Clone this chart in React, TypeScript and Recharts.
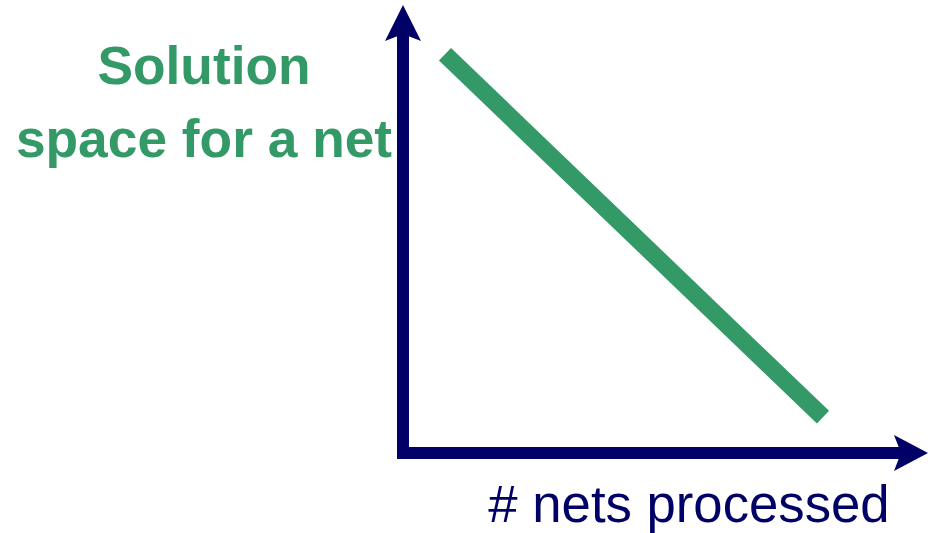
import { ComposedChart, Line, XAxis, YAxis, ReferenceLine } from 'recharts';

// endpoints of the trend line, in axis units (0..100 on both axes)
const netsProcessed = [8, 80];
const solutionSpace = [89, 8];

const yLabelLines = ['Solution', 'space for a net'];
const xLabel = '# nets processed';

const NAVY = '#000066';
const GREEN = '#339966';
const FONT = '"Liberation Sans", Arial, sans-serif';

const chartData = netsProcessed.map((x, i) => ({ x, y: solutionSpace[i] }));

interface ArrowShapeProps {
  x1?: number;
  y1?: number;
  x2?: number;
  y2?: number;
}

// vertical axis: drawn from origin up to the top with an arrowhead
function YArrow({ x1 = 0, y1 = 0, x2 = 0, y2 = 0 }: ArrowShapeProps) {
  const top = Math.min(y1, y2);
  const bottom = Math.max(y1, y2);
  const x = x1;
  return (
    <g>
      <line x1={x} y1={bottom} x2={x} y2={top + 32} stroke={NAVY} strokeWidth={12} strokeLinecap="square" />
      <polygon
        points={`${x},${top} ${x - 18},${top + 36} ${x},${top + 29} ${x + 18},${top + 36}`}
        fill={NAVY}
      />
      {yLabelLines.map((line, i) => (
        <text
          key={line}
          x={x - 199}
          y={top + 79 + i * 73}
          textAnchor="middle"
          fill={GREEN}
          fontFamily={FONT}
          fontWeight="bold"
          fontSize={53.3}
        >
          {line}
        </text>
      ))}
    </g>
  );
}

// horizontal axis: from origin to the right edge with an arrowhead
function XArrow({ x1 = 0, y1 = 0, x2 = 0 }: ArrowShapeProps) {
  const left = Math.min(x1, x2);
  const right = Math.max(x1, x2);
  const y = y1;
  return (
    <g>
      <line x1={left} y1={y} x2={right - 30} y2={y} stroke={NAVY} strokeWidth={12} strokeLinecap="square" />
      <polygon
        points={`${right},${y} ${right - 34},${y - 18} ${right - 27},${y} ${right - 34},${y + 18}`}
        fill={NAVY}
      />
      <text x={689} y={y + 69} textAnchor="middle" fill={NAVY} fontFamily={FONT} fontSize={52.7}>
        {xLabel}
      </text>
    </g>
  );
}

export default function App() {
  return (
    <div style={{ position: 'absolute', left: 0, top: 0, width: 928, height: 533, background: '#fff' }}>
      <ComposedChart
        width={928}
        height={533}
        data={chartData}
        margin={{ top: 5, right: 0, left: 403, bottom: 80 }}
      >
        <XAxis type="number" dataKey="x" domain={[0, 100]} hide />
        <YAxis type="number" domain={[0, 100]} hide />
        <ReferenceLine
          segment={[{ x: 0, y: 0 }, { x: 0, y: 100 }]}
          ifOverflow="visible"
          shape={(p: ArrowShapeProps) => <YArrow {...p} />}
        />
        <ReferenceLine
          segment={[{ x: 0, y: 0 }, { x: 100, y: 0 }]}
          ifOverflow="visible"
          shape={(p: ArrowShapeProps) => <XArrow {...p} />}
        />
        <Line
          type="linear"
          dataKey="y"
          stroke={GREEN}
          strokeWidth={17.5}
          strokeLinecap="butt"
          dot={false}
          activeDot={false}
          isAnimationActive={false}
        />
      </ComposedChart>
    </div>
  );
}
